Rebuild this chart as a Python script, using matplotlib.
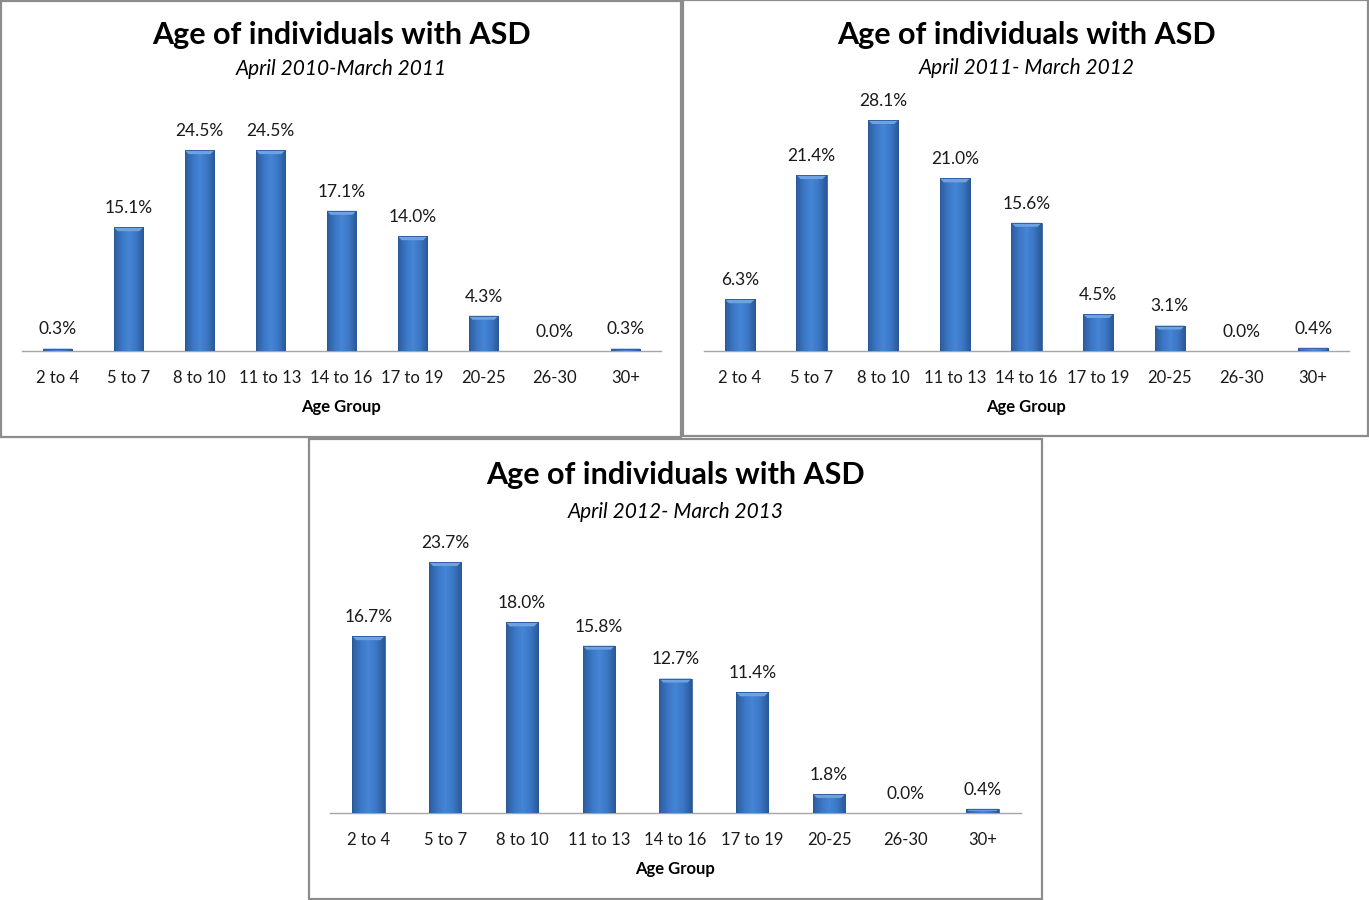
import numpy as np
import matplotlib
matplotlib.use("Agg")
import matplotlib.pyplot as plt
from matplotlib.patches import Rectangle, Polygon
from matplotlib.colors import LinearSegmentedColormap

plt.rcParams['font.family'] = ['Lato', 'DejaVu Sans']

W, H = 1369, 900

age_groups = ["2 to 4", "5 to 7", "8 to 10", "11 to 13", "14 to 16",
              "17 to 19", "20-25", "26-30", "30+"]
share_2010_11 = [0.3, 15.1, 24.5, 24.5, 17.1, 14.0, 4.3, 0.0, 0.3]
share_2011_12 = [6.3, 21.4, 28.1, 21.0, 15.6, 4.5, 3.1, 0.0, 0.4]
share_2012_13 = [16.7, 23.7, 18.0, 15.8, 12.7, 11.4, 1.8, 0.0, 0.4]

title = "Age of individuals with ASD"
subtitles = ["April 2010-March 2011", "April 2011- March 2012", "April 2012- March 2013"]

fig = plt.figure(figsize=(W / 100, H / 100), dpi=100)
fig.patch.set_facecolor("white")


def fx(x):
    return x / W


def fy(y):
    return 1 - y / H


def frame(x0, y0, x1, y1):
    fig.patches.append(Rectangle((fx(x0), fy(y1)), fx(x1) - fx(x0), fy(y0) - fy(y1),
                                 transform=fig.transFigure, fill=False,
                                 edgecolor="#8c8c8c", linewidth=1.6, zorder=0))


shade = LinearSegmentedColormap.from_list(
    "bar_shade", ["#2c5c9c", "#3a76c4", "#4686d6", "#3a76c4", "#2a5896"])


def bevel_bars(ax, values, width_frac=0.42):
    inv = ax.transData.inverted()
    grad = np.linspace(0, 1, 64)[None, :]
    for i, v in enumerate(values):
        if v <= 0:
            continue
        x0, x1 = i - width_frac / 2, i + width_frac / 2
        ax.bar(i, v, width=width_frac, color="#3c78c6", edgecolor="none", zorder=2)
        im = ax.imshow(grad, cmap=shade, aspect="auto",
                       extent=(x0, x1, 0, v), zorder=3, interpolation="bilinear")
        clip = Rectangle((x0, 0), width_frac, v, transform=ax.transData)
        im.set_clip_path(clip)
        # bevelled top edge
        px0, py0 = ax.transData.transform((x0, 0))
        px1, py1 = ax.transData.transform((x1, v))
        b = min(4.0, (py1 - py0) / 2.0)
        if b > 0.5:
            pts = [(px0, py1), (px1, py1), (px1 - b, py1 - b), (px0 + b, py1 - b)]
            ax.add_patch(Polygon(inv.transform(pts), closed=True,
                                 facecolor="#6da3e3", edgecolor="none", zorder=4))
        ax.add_patch(Rectangle((x0, 0), width_frac, v, fill=False,
                               edgecolor="#2a5896", linewidth=0.6, zorder=5))


def panel(box, ax_px, ymax, values, subtitle, title_y, sub_y):
    frame(*box)
    left, right, bottom, top = ax_px
    ax = fig.add_axes([fx(left), fy(bottom), fx(right) - fx(left), fy(top) - fy(bottom)])
    ax.set_xlim(-0.5, len(values) - 0.5)
    ax.set_ylim(0, ymax)
    for s in ("left", "right", "top"):
        ax.spines[s].set_visible(False)
    ax.spines["bottom"].set_color("#a6a6a6")
    ax.spines["bottom"].set_linewidth(1.0)
    ax.set_yticks([])
    ax.set_xticks(range(len(values)))
    ax.set_xticklabels(age_groups, fontsize=12, color="#1a1a1a")
    ax.tick_params(axis="x", length=0, pad=14)
    ax.set_facecolor("none")
    bevel_bars(ax, values)
    for i, v in enumerate(values):
        ax.annotate(f"{v:.1f}%", (i, v), xytext=(0, 8), textcoords="offset points",
                    ha="center", va="bottom", fontsize=12.5, color="#1a1a1a")
    ax.set_xlabel("Age Group", fontsize=12, fontweight="bold", labelpad=9)
    cx = (left + right) / 2
    fig.text(fx(cx), fy(title_y), title, ha="center", va="center",
             fontsize=22, fontweight="bold", color="black")
    fig.text(fx(cx), fy(sub_y), subtitle, ha="center", va="center",
             fontsize=15, style="italic", color="black")
    return ax


panel((1, 1, 681, 437), (22, 661, 351, 351 - 30 * 8.2), 30,
      share_2010_11, subtitles[0], 35, 69)
panel((683, 0, 1368, 436), (704, 1349, 351, 351 - 30 * 8.22), 30,
      share_2011_12, subtitles[1], 35, 68)
panel((309, 439, 1042, 899), (330, 1021, 813, 813 - 25 * 10.59), 25,
      share_2012_13, subtitles[2], 475, 512)

fig.savefig("out.png", dpi=100)
